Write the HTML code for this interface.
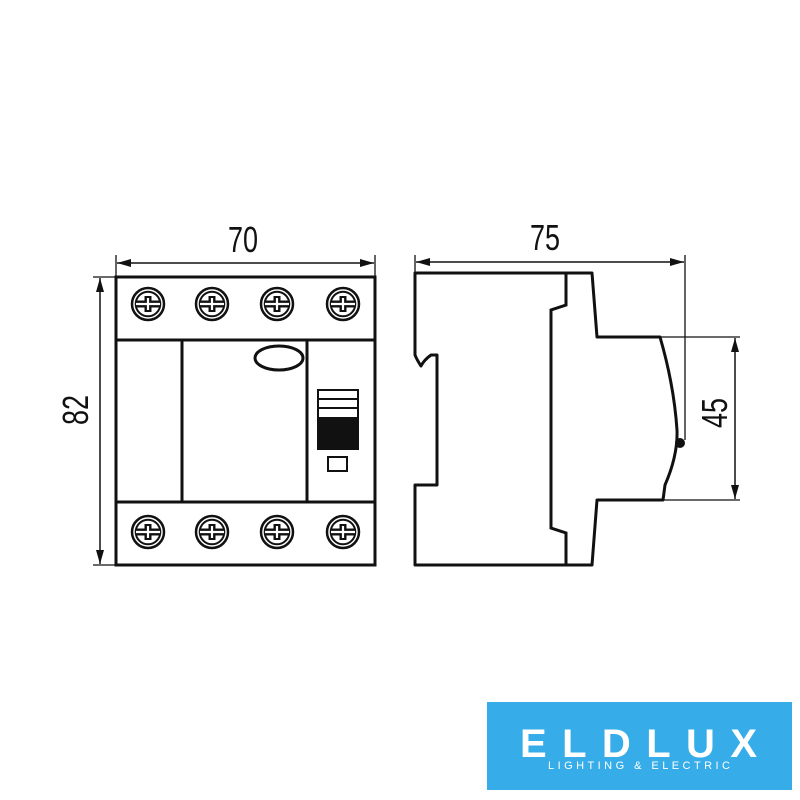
<!DOCTYPE html>
<html><head><style>body{margin:0;background:#fff}svg{display:block}</style></head><body>
<svg width="800" height="800" viewBox="0 0 800 800" xmlns="http://www.w3.org/2000/svg">
<defs>
<g id="s">
<circle r="16" fill="none" stroke="#111" stroke-width="2.5"/>
<circle r="12.3" fill="none" stroke="#111" stroke-width="2"/>
<path d="M-12 0H12M0 -8V8" stroke="#111" stroke-width="7"/>
<path d="M-12 0H12M0 -6V6" stroke="#fff" stroke-width="2.2"/>
</g>
<marker id="a" markerWidth="14" markerHeight="8" refX="14" refY="4" orient="auto" markerUnits="userSpaceOnUse"><path d="M0 0L14 4L0 8Z" fill="#111"/></marker>
<marker id="b" markerWidth="14" markerHeight="8" refX="0" refY="4" orient="auto" markerUnits="userSpaceOnUse"><path d="M14 0L0 4L14 8Z" fill="#111"/></marker>
</defs>
<g stroke="#111" fill="none">
<rect x="116" y="277" width="259" height="288" stroke-width="3"/>
<path d="M116 340H375M116 502H375M182 340V502M307 340V502" stroke-width="3"/>
<ellipse cx="279" cy="358" rx="24" ry="12" stroke-width="3"/>
<rect x="318" y="390" width="40" height="59" stroke-width="2"/>
<rect x="318" y="418" width="40" height="31" fill="#111" stroke-width="2"/>
<path d="M318 399H358M318 408H358" stroke-width="2"/>
<rect x="328" y="457" width="19" height="14" stroke-width="2"/>
<path d="M116 255V277M375 255V277M93 277H116M93 565H116" stroke-width="1.3"/>
<path d="M117 263H374" stroke-width="1.5" marker-start="url(#b)" marker-end="url(#a)"/>
<path d="M100 278V564" stroke-width="1.5" marker-start="url(#b)" marker-end="url(#a)"/>
<path d="M415 273H592L597 337H660Q674 385 677 430Q678 455 665 485L663 500H597L592 565H415V485H437V355H431Q424 360 421 366Q417 360 415 355Z" stroke-width="3" stroke-linejoin="round"/>
<path d="M566 273V305L551 310V528L566 533V565" stroke-width="3"/>
<path d="M415 255V273M685 255V440M660 337H740M663 500H740" stroke-width="1.3"/>
<path d="M416 262H684" stroke-width="1.5" marker-start="url(#b)" marker-end="url(#a)"/>
<path d="M735 338V499" stroke-width="1.5" marker-start="url(#b)" marker-end="url(#a)"/>
</g>
<circle cx="680" cy="443" r="5" fill="#111"/>
<use href="#s" x="148" y="304"/><use href="#s" x="212" y="304"/><use href="#s" x="277" y="304"/><use href="#s" x="343" y="304"/>
<use href="#s" x="148" y="532"/><use href="#s" x="212" y="532"/><use href="#s" x="277" y="532"/><use href="#s" x="343" y="532"/>
<g font-family="Liberation Sans, sans-serif" font-size="36" fill="#111" text-anchor="middle">
<text transform="translate(243,252) scale(0.75,1)">70</text>
<text transform="translate(545,250) scale(0.75,1)">75</text>
<text transform="translate(88,410) rotate(-90) scale(0.75,1)">82</text>
<text transform="translate(727,413) rotate(-90) scale(0.75,1)">45</text>
</g>
<rect x="487" y="702" width="305" height="88" fill="#36ade9"/>
<text x="520" y="757" font-family="Liberation Sans, sans-serif" font-size="40" font-weight="bold" fill="#fff" textLength="237" lengthAdjust="spacing">ELDLUX</text>
<text x="548" y="769" font-family="Liberation Sans, sans-serif" font-size="11" fill="#fff" textLength="182" lengthAdjust="spacing">LIGHTING &amp; ELECTRIC</text>
</svg>
</body></html>
